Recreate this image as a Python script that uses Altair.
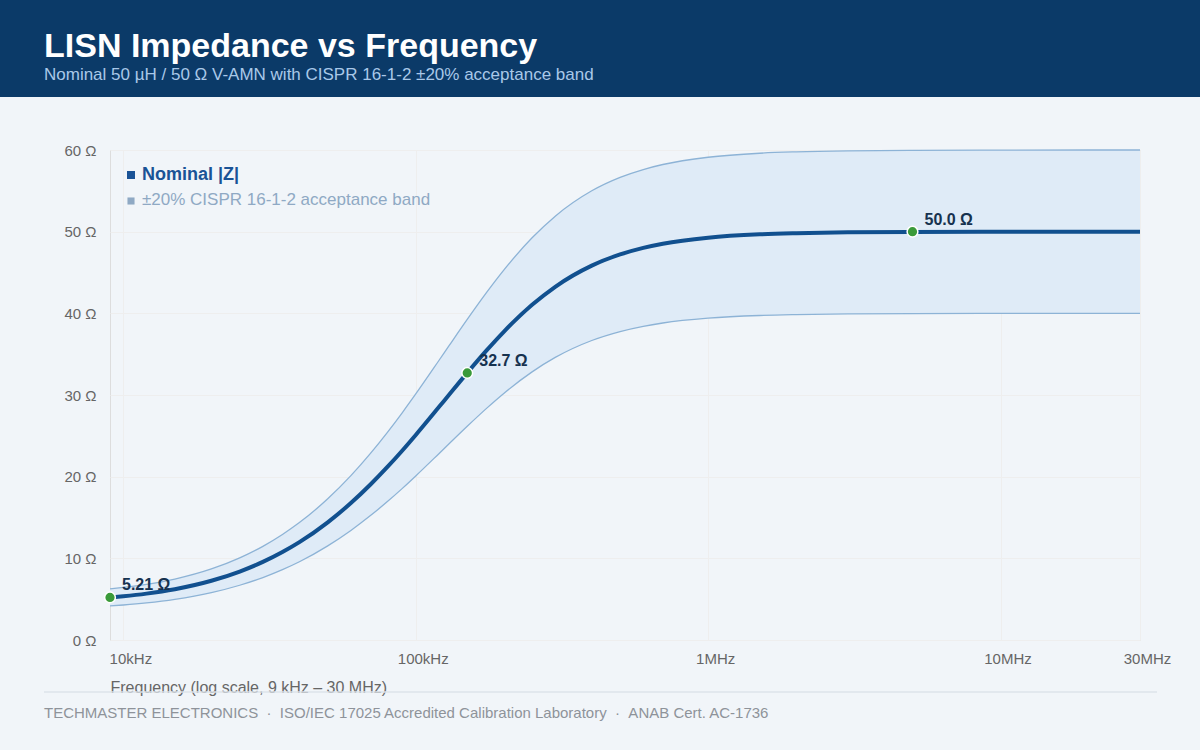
import altair as alt
import pandas as pd

# Nominal |Z| of the 50 uH / 50 ohm V-AMN (frequency in Hz, impedance in ohm)
freq_hz = [9e3, 1e4, 1.2e4, 1.5e4, 2e4, 2.5e4, 3e4, 3.5e4, 4e4, 5e4, 6e4, 7e4,
           8e4, 9e4, 1e5, 1.2e5, 1.3e5, 1.5e5, 1.75e5, 2e5, 2.5e5, 3e5, 4e5,
           5e5, 6e5, 7e5, 1e6, 1.5e6, 2e6, 3e6, 5e6, 1e7, 2e7, 3e7]
z_ohm = [5.21, 5.36, 5.68, 6.22, 7.25, 8.38, 9.56, 10.77, 11.98, 14.41, 16.77,
         19.04, 21.19, 23.21, 25.11, 28.52, 30.03, 32.71, 35.49, 37.74, 41.04,
         43.25, 45.84, 47.21, 48.01, 48.52, 49.26, 49.67, 49.81, 49.92, 49.97,
         49.99, 50.0, 50.0]

# Annotated points
mark_freq = [9e3, 1.5e5, 5e6]
mark_z = [5.21, 32.7, 50.0]
mark_text = ["5.21 Ω", "32.7 Ω", "50.0 Ω"]

# Axis ticks
x_ticks = [1e4, 1e5, 1e6, 1e7, 3e7]
y_ticks = [0, 10, 20, 30, 40, 50, 60]

TOL = 0.20  # CISPR 16-1-2 acceptance tolerance

curve = pd.DataFrame({"f": freq_hz, "z": z_ohm})
curve["lo"] = curve["z"] * (1 - TOL)
curve["hi"] = curve["z"] * (1 + TOL)
marks = pd.DataFrame({"f": mark_freq, "z": mark_z, "label": mark_text})

W, H = 1030, 490
PAD_L, PAD_T = 110, 150
FONT = "Liberation Sans"
NB = "\u00a0"

x_scale = alt.Scale(type="log", domain=[9e3, 3e7], nice=False)
y_scale = alt.Scale(domain=[0, 60], nice=False)

label_expr = ("datum.value >= 1e6 ? format(datum.value/1e6, 'd') + 'MHz' : "
              "format(datum.value/1e3, 'd') + 'kHz'")

x_axis = alt.Axis(
    values=x_ticks, labelExpr=label_expr,
    title="Frequency (log scale, 9 kHz – 30 MHz)",
    titleAnchor="start", titleAlign="left", titleFontWeight="normal",
    titleFontSize=16, titleColor="#666666", titlePadding=13,
    labelFontSize=15, labelColor="#666666", labelPadding=11, labelOffset=7,
    labelFlush=False, labelOverlap=False,
    domain=False, ticks=False, grid=True, gridColor="#eeeeee", gridWidth=1)
y_axis = alt.Axis(
    values=y_ticks, labelExpr="datum.value + ' Ω'", title=None,
    labelFontSize=15, labelColor="#666666", labelPadding=14,
    domain=False, ticks=False, grid=True, gridColor="#eeeeee", gridWidth=1)

base = alt.Chart(curve)

band = base.mark_area(color="#dfebf7", opacity=1, interpolate="monotone").encode(
    x=alt.X("f:Q", scale=x_scale, axis=x_axis),
    y=alt.Y("lo:Q", scale=y_scale, axis=y_axis),
    y2="hi:Q")
band_hi = base.mark_line(color="#8db3d6", strokeWidth=1.3,
                         interpolate="monotone").encode(x="f:Q", y="hi:Q")
band_lo = base.mark_line(color="#8db3d6", strokeWidth=1.3,
                         interpolate="monotone").encode(x="f:Q", y="lo:Q")
nominal = base.mark_line(color="#11508f", strokeWidth=4,
                         interpolate="monotone").encode(x="f:Q", y="z:Q")

dots = alt.Chart(marks).mark_point(
    filled=True, size=115, color="#3a9a3a", stroke="white", strokeWidth=1.5,
    opacity=1).encode(x="f:Q", y="z:Q")
dot_labels = alt.Chart(marks).mark_text(
    align="left", baseline="alphabetic", dx=12, dy=-7, fontSize=16,
    fontWeight="bold", color="#16324f", font=FONT).encode(
    x="f:Q", y="z:Q", text="label:N")

# Legend drawn inside the plot, top-left
legend_rows = pd.DataFrame({
    "txt": ["Nominal |Z|", "±20% CISPR 16-1-2 acceptance band"],
    "row": [0, 1],
})
row0 = alt.Chart(legend_rows).transform_filter("datum.row == 0")
row1 = alt.Chart(legend_rows).transform_filter("datum.row == 1")

leg_sq1 = row0.mark_square(size=64, color="#1a5396", opacity=1).encode(
    x=alt.value(21), y=alt.value(25))
leg_sq2 = row1.mark_square(size=50, color="#8fa9c4", opacity=1).encode(
    x=alt.value(21), y=alt.value(51))
leg_t1 = row0.mark_text(
    align="left", baseline="middle", fontSize=18, fontWeight="bold",
    color="#1a5396", font=FONT).encode(
    x=alt.value(32), y=alt.value(25), text="txt:N")
leg_t2 = row1.mark_text(
    align="left", baseline="middle", fontSize=17, color="#8fa9c4",
    font=FONT).encode(x=alt.value(32), y=alt.value(50), text="txt:N")

# Header band, titles and footer
header = row0.mark_rect(color="#0b3a68", clip=False).encode(
    x=alt.value(-PAD_L), x2=alt.value(1200 - PAD_L),
    y=alt.value(-PAD_T), y2=alt.value(97 - PAD_T))
title = row0.mark_text(
    text="LISN Impedance vs Frequency", align="left", baseline="alphabetic",
    fontSize=34, fontWeight="bold", color="white", font=FONT).encode(
    x=alt.value(44 - PAD_L), y=alt.value(57 - PAD_T))
subtitle = row0.mark_text(
    text="Nominal 50 µH / 50 Ω V-AMN with CISPR 16-1-2 ±20% acceptance band",
    align="left", baseline="alphabetic", fontSize=17, color="#a9c8e8",
    font=FONT).encode(x=alt.value(44 - PAD_L), y=alt.value(80 - PAD_T))
sep = row0.mark_rule(color="#dde3ea", strokeWidth=1.5).encode(
    x=alt.value(44 - PAD_L), x2=alt.value(1157 - PAD_L),
    y=alt.value(692 - PAD_T))
footer = row0.mark_text(
    text=("TECHMASTER ELECTRONICS" + NB + NB + "·" + NB + NB +
          "ISO/IEC 17025 Accredited Calibration Laboratory" + NB + NB + "·" +
          NB + NB + "ANAB Cert. AC-1736"),
    align="left", baseline="alphabetic", fontSize=15, color="#8e939a",
    font=FONT).encode(x=alt.value(44 - PAD_L), y=alt.value(718 - PAD_T))

chart = alt.layer(
    header, title, subtitle, sep, footer,
    band, band_hi, band_lo, nominal, dots, dot_labels,
    leg_sq1, leg_sq2, leg_t1, leg_t2,
).properties(
    width=W, height=H,
    autosize=alt.AutoSizeParams(type="none"),
    padding={"left": PAD_L, "top": PAD_T, "right": 1200 - PAD_L - W,
             "bottom": 750 - PAD_T - H},
    background="#f1f5f9",
).configure_view(
    fill="white", stroke=None,
).configure(font=FONT)

chart.save("out.html", embed_options={"renderer": "svg", "actions": False})
